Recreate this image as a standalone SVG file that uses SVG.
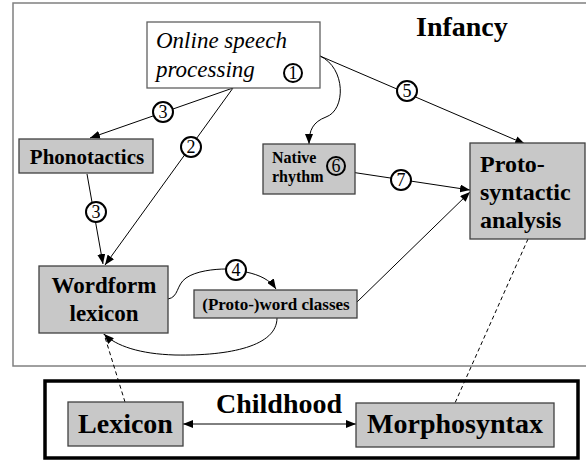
<svg xmlns="http://www.w3.org/2000/svg" width="586" height="460" viewBox="0 0 586 460">
<style>
  text { font-family: "Liberation Serif", "Times New Roman", Tinos, "Nimbus Roman", "Noto Serif", "DejaVu Serif", FreeSerif, serif; fill: #000; }
  .b { font-weight: bold; }
  .box { fill: #c8c8c8; stroke: #404040; stroke-width: 1.3; }
  .ln { fill: none; stroke: #000; stroke-width: 1; }
  .dash { fill: none; stroke: #000; stroke-width: 1; stroke-dasharray: 4 3; }
  .num { fill: #fff; stroke: #000; stroke-width: 2; }
  .digit { font-size: 18px; text-anchor: middle; }
</style>
<defs>
  <marker id="ah" markerUnits="userSpaceOnUse" markerWidth="10" markerHeight="8" refX="10" refY="4" orient="auto">
    <path d="M0,0 L10,4 L0,8 z" fill="#000"/>
  </marker>
  <marker id="ahs" markerUnits="userSpaceOnUse" markerWidth="10" markerHeight="8" refX="0" refY="4" orient="auto">
    <path d="M10,0 L0,4 L10,8 z" fill="#000"/>
  </marker>
</defs>
<rect width="586" height="460" fill="#fff"/>
<g id="infancy">
  <rect x="13" y="3" width="590" height="363" fill="#fff" stroke="#808080" stroke-width="1.5"/>
  <text class="b" x="416" y="36" font-size="28">Infancy</text>
</g>
<g id="childhood">
  <rect x="45" y="381" width="533" height="77" fill="#fff" stroke="#000" stroke-width="3.5"/>
  <text class="b" x="216" y="413" font-size="28">Childhood</text>
</g>
<g id="connectors">
  <line class="ln" x1="233" y1="88" x2="90" y2="138" marker-end="url(#ah)"/>
  <line class="ln" x1="233" y1="88" x2="105" y2="265" marker-end="url(#ah)"/>
  <line class="ln" x1="87" y1="174" x2="103" y2="264" marker-end="url(#ah)"/>
  <path class="ln" d="M320,56 C346,68 346,110 326,117 C313,122 309,130 309,144" marker-end="url(#ah)"/>
  <line class="ln" x1="320" y1="56" x2="525" y2="144" marker-end="url(#ah)"/>
  <line class="ln" x1="344" y1="171" x2="470" y2="190" marker-end="url(#ah)"/>
  <line class="ln" x1="357" y1="302" x2="470" y2="192" marker-end="url(#ah)"/>
  <path class="ln" d="M168,299 C179,297 176,285 186,278 C196,271 214,269 226,269 M246,272 C260,275 270,280 276,289" marker-end="url(#ah)"/>
  <path class="ln" d="M277,318 C277,346 230,356 175,355 C140,354 116,346 104,334" marker-end="url(#ah)"/>
  <line class="dash" x1="125" y1="402" x2="104" y2="334"/>
  <line class="dash" x1="528" y1="239" x2="455" y2="403"/>
  <line class="ln" x1="183" y1="424" x2="356" y2="424" marker-start="url(#ahs)" marker-end="url(#ah)"/>
  <circle class="num" cx="163" cy="112" r="10"/>
  <text class="digit" x="163" y="118">3</text>
  <circle class="num" cx="191" cy="147" r="10"/>
  <text class="digit" x="191" y="153">2</text>
  <circle class="num" cx="96" cy="212" r="10"/>
  <text class="digit" x="96" y="218">3</text>
  <circle class="num" cx="407" cy="91" r="10"/>
  <text class="digit" x="407" y="97">5</text>
  <circle class="num" cx="401" cy="180" r="10"/>
  <text class="digit" x="401" y="186">7</text>
  <circle class="num" cx="236" cy="270" r="10"/>
  <text class="digit" x="236" y="276">4</text>
</g>
<g id="online">
  <rect x="147" y="22" width="173" height="66" fill="#fff" stroke="#606060" stroke-width="1.3"/>
  <text x="156" y="48" font-size="23" font-style="italic">Online speech</text>
  <text x="156" y="77" font-size="23" font-style="italic">processing</text>
  <circle class="num" cx="293" cy="73" r="9"/>
  <text class="digit" x="293" y="79">1</text>
</g>
<g id="phonotactics">
  <rect class="box" x="19" y="139" width="134" height="34"/>
  <text class="b" x="87" y="164" font-size="21" text-anchor="middle">Phonotactics</text>
</g>
<g id="native">
  <rect class="box" x="263" y="144" width="92" height="50"/>
  <text class="b" x="272" y="163" font-size="16">Native</text>
  <text class="b" x="272" y="182" font-size="16">rhythm</text>
  <circle cx="336" cy="166" r="9" fill="none" stroke="#000" stroke-width="2"/>
  <text class="digit" x="336" y="172">6</text>
</g>
<g id="protosyntactic">
  <rect class="box" x="470" y="143" width="115" height="96"/>
  <text class="b" x="480" y="172" font-size="24">Proto-</text>
  <text class="b" x="480" y="200" font-size="24">syntactic</text>
  <text class="b" x="480" y="228" font-size="24">analysis</text>
</g>
<g id="wordform">
  <rect class="box" x="39" y="266" width="129" height="67"/>
  <text class="b" x="104" y="293" font-size="23" text-anchor="middle">Wordform</text>
  <text class="b" x="104" y="321" font-size="23" text-anchor="middle">lexicon</text>
</g>
<g id="wordclasses">
  <rect class="box" x="194" y="290" width="163" height="28"/>
  <text class="b" x="276" y="310" font-size="17" text-anchor="middle">(Proto-)word classes</text>
</g>
<g id="lexicon">
  <rect class="box" x="68" y="402" width="115" height="44"/>
  <text class="b" x="125.5" y="433" font-size="28" text-anchor="middle">Lexicon</text>
</g>
<g id="morphosyntax">
  <rect class="box" x="356" y="403" width="198" height="44"/>
  <text class="b" x="455" y="433" font-size="28" text-anchor="middle">Morphosyntax</text>
</g>
</svg>
